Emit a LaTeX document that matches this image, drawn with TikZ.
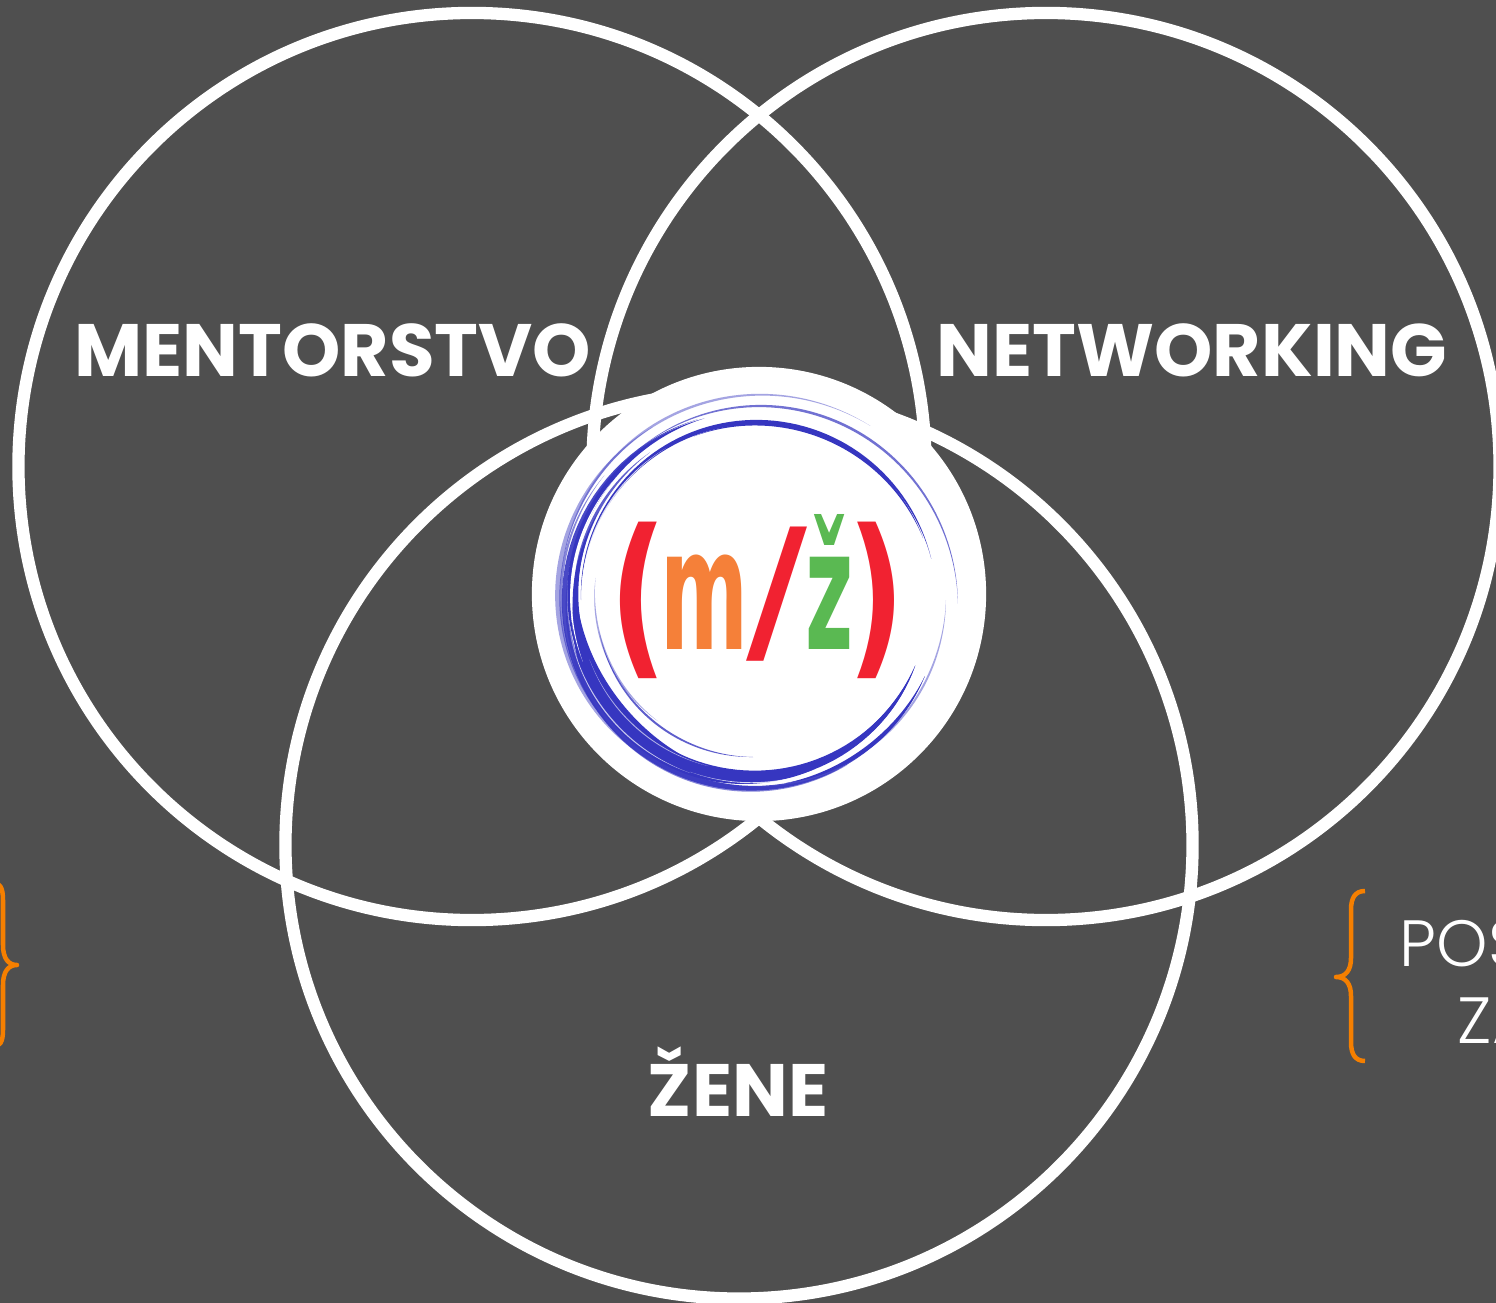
\documentclass[tikz,border=0pt]{standalone}
\usepackage{fontspec}
\setmainfont{Poppins}
\newfontfamily\lightfont{Poppins Light}
\newfontfamily\logofont{DejaVu Sans}
\newfontfamily\slashfont{Liberation Sans}
\definecolor{bgcol}{HTML}{4F4F4F}
\definecolor{swirlcol}{HTML}{3636C0}
\definecolor{mcol}{HTML}{F58039}
\definecolor{slashcol}{HTML}{F12231}
\definecolor{zcol}{HTML}{5AB952}
\definecolor{bracecol}{HTML}{F57F00}
\begin{document}
\begin{tikzpicture}[
    x=0.01cm, y=-0.01cm,
    ring/.style={draw=white, line width=0.123cm, circle, minimum size=9.066cm, inner sep=0pt},
    title/.style={text=white, font=\fontsize{21.1}{24}\selectfont\bfseries, inner sep=0pt, anchor=base},
    side/.style={text=white, font=\lightfont\fontsize{18.6}{22}\selectfont, inner sep=0pt, anchor=base west},
    curly/.style={draw=bracecol, line width=0.045cm, line join=round},
    logo/.style={font=\logofont\bfseries\fontsize{48}{48}\selectfont, inner sep=0pt, anchor=base},
    paren/.style={text=slashcol, xscale=0.72, font=\logofont\bfseries\fontsize{50}{50}\selectfont, inner sep=0pt, anchor=base}
]
\useasboundingbox (0,0) rectangle (1496,1303);
\clip (0,0) rectangle (1496,1303);
\fill[bgcol] (0,0) rectangle (1496,1303);

% Circles
\node[ring] (Mentor) at (472,466.5) {};
\node[ring] (Net) at (1046,466.5) {};
\node[ring] (Zene) at (739,845) {};
\node[circle, fill=white, minimum size=4.54cm, inner sep=0pt] (Disc) at (759,594) {};

% Swirl
\foreach \a/\b/\ra/\rb/\w/\o/\c in {
    13/180/183/172/2.2/1/swirlcol,
    20/110/181/174/1.6/1/swirlcol,
    -1/130/205/189/1.3/.7/swirlcol,
    56/175/210/193/1.2/.45/swirlcol,
    120/235/200/191/2.5/.45/swirlcol,
    107/336/189/188/3/.9/swirlcol,
    105/200/188/183/2.5/1/swirlcol,
    125/215/180/176/2/.8/swirlcol,
    140/230/194/190/1.5/.6/swirlcol,
    172/232/159/154/1/.45/swirlcol,
    192/270/157/157/1/.8/swirlcol,
    150/338/178/175/6/1/swirlcol,
    175/262/178/176/10/1/swirlcol,
    185/290/182/180/6/1/swirlcol,
    270/338/176/175/2.5/1/swirlcol,
    280/336/186/188/2/1/swirlcol,
    -60/0/188/193/1/.45/swirlcol,
    170/300/186/190/4/.6/swirlcol,
    140/200/184/181/1/1/white,
    120/195/175/170/.8/.8/white,
    190/250/186/184/.6/.7/white,
    200/255/174/172/.5/.6/white,
    250/330/183/182/.7/.8/white}
  \fill[\c, fill opacity=\o]
    plot[domain=\a:\b, samples=70] ({753+(\ra+(\rb-\ra)*(\x-\a)/(\b-\a)+\w*sin((\x-\a)/(\b-\a)*180))*cos(\x)},
                                     {600-(\ra+(\rb-\ra)*(\x-\a)/(\b-\a)+\w*sin((\x-\a)/(\b-\a)*180))*sin(\x)})
    -- plot[domain=\b:\a, samples=70] ({753+(\ra+(\rb-\ra)*(\x-\a)/(\b-\a)-\w*sin((\x-\a)/(\b-\a)*180))*cos(\x)},
                                     {600-(\ra+(\rb-\ra)*(\x-\a)/(\b-\a)-\w*sin((\x-\a)/(\b-\a)*180))*sin(\x)})
    -- cycle;

% Logo
\node[paren] (LogoA) at (638,655) {(};
\node[logo, text=mcol, xscale=0.5] (LogoM) at (704,649) {m};
\node[logo, text=slashcol, xscale=1.2, font=\slashfont\fontsize{52}{52}\selectfont] (LogoS) at (777,659) {/};
\node[logo, text=zcol, xscale=0.49] (LogoZ) at (830,649) {ž};
\node[paren] (LogoB) at (876,655) {)};

% Labels
\node[title] (LabelM) at (333,376) {MENTORSTVO};
\node[title] (LabelN) at (1192,376) {NETWORKING};
\node[title] (LabelZ) at (738,1116) {ŽENE};
\node[side] (SideA) at (1399,966) {POS};
\node[side] (SideB) at (1457,1043) {ZA};

% Braces
\draw[curly] (1365,891) .. controls (1355,891) and (1351,898) .. (1351,910) -- (1351,958)
  .. controls (1351,970) and (1346,977) .. (1336,977)
  .. controls (1346,977) and (1351,984) .. (1351,996) -- (1351,1042)
  .. controls (1351,1054) and (1355,1061) .. (1365,1061);
\draw[curly] (-8,882) .. controls (0,882) and (3,888) .. (3,900) -- (3,945)
  .. controls (3,958) and (8,965) .. (17,965)
  .. controls (8,965) and (3,972) .. (3,985) -- (3,1030)
  .. controls (3,1042) and (0,1047) .. (-8,1047);

\end{tikzpicture}
\end{document}
